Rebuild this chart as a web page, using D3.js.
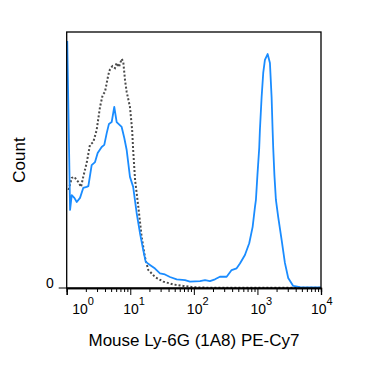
<!DOCTYPE html>
<html>
<head>
<meta charset="utf-8">
<script src="https://cdn.jsdelivr.net/npm/d3@7"></script>
<style>
  body { margin: 0; background: #fff; }
  text { font-family: Arial, "Liberation Sans", sans-serif; fill: #000; }
</style>
</head>
<body>
<div id="chart-area"></div>
<script>
// stained sample (blue) - intensity / % of max
var stainedX = [1.02, 1.07, 1.13, 1.20, 1.32, 1.44, 1.62, 1.82, 2.06, 2.19, 2.47, 2.79, 3.07, 3.55, 3.90, 4.26, 4.62, 5.10, 5.60, 6.11,
  7.32, 8.05, 8.78, 9.89, 11.1, 12.6, 14.2, 16.0, 17.5, 20.4, 24.5, 29.3, 35.1, 42.1, 53.7, 72.5, 86.9, 125, 150, 179,
  215, 257, 328, 393, 471, 531, 636, 743, 841, 914, 947, 1000, 1067, 1094, 1164, 1234, 1312, 1447, 1573, 1671,
  1733, 1772, 1850, 1954, 2124, 2402, 2706, 3050, 3654, 4660, 6690, 10000];
var stainedY = [96.5, 65.6, 30.5, 36.3, 35.2, 33.6, 35.2, 39.1, 39.5, 39.8, 48.0, 49.2, 52.7, 55.1, 55.9, 60.5, 64.1, 64.8, 70.7, 64.8,
  62.9, 58.6, 53.9, 43.4, 39.5, 29.3, 21.5, 14.8, 10.2, 9.0, 7.6, 5.7, 5.3, 4.3, 3.4, 3.1, 2.5, 2.7, 3.1, 2.7,
  3.4, 4.4, 4.4, 7.0, 7.7, 9.6, 12.9, 17.5, 23.9, 31.6, 34.4, 44.1, 54.7, 61.7, 74.6, 84.0, 89.1, 91.4, 87.9, 74.6,
  61.7, 54.7, 44.1, 34.4, 27.7, 18.8, 9.8, 3.9, 0.8, 0.3, 0.2, 0.2];

// isotype control (dotted)
var controlX = [1.07, 1.20, 1.32, 1.52, 1.68, 1.82, 2.06, 2.32, 2.62, 2.96, 3.34, 3.68, 4.00, 4.51, 4.80, 5.25, 5.75, 6.11, 6.64, 7.32,
  7.76, 8.26, 8.78, 9.89, 10.7, 11.1, 11.9, 13.4, 15.1, 17.0, 19.2, 20.4, 24.5, 33.0, 47.4, 68.1, 97.9, 179, 10000];
var controlY = [38.3, 43.0, 43.4, 41.4, 39.5, 43.4, 48.8, 55.9, 57.0, 61.7, 70.7, 75.4, 76.6, 83.2, 85.5, 86.7, 85.9, 87.9, 86.3, 89.5,
  88.3, 81.3, 76.6, 70.7, 61.7, 53.9, 42.2, 31.6, 19.9, 12.1, 7.0, 6.4, 4.3, 2.5, 1.4, 0.8, 0.3, 0.1, 0.1];

var decades = [0, 1, 2, 3, 4];

var margin = { left: 66.7, top: 32 };
var width = 254.3, height = 256;

var svg = d3.select("#chart-area").append("svg")
  .attr("width", 375).attr("height", 369);
var g = svg.append("g")
  .attr("transform", "translate(" + margin.left + "," + margin.top + ")");

var x = d3.scaleLog().domain([1, 10000]).range([0, width]);
var y = d3.scaleLinear().domain([0, 100]).range([height, 0]);

// minor ticks 2..9 in each decade
var minors = [];
decades.slice(0, 4).forEach(function(p) {
  for (var m = 2; m <= 9; m++) minors.push(m * Math.pow(10, p));
});

var line = d3.line()
  .x(function(d) { return x(d[0]); })
  .y(function(d) { return y(d[1]); });

g.append("path")
  .datum(d3.zip(controlX, controlY))
  .attr("fill", "none")
  .attr("stroke", "#4a4a4a")
  .attr("stroke-width", 2)
  .attr("stroke-dasharray", "2,2")
  .attr("d", line);

g.append("path")
  .datum(d3.zip(stainedX, stainedY))
  .attr("fill", "none")
  .attr("stroke", "#1a8cff")
  .attr("stroke-width", 1.8)
  .attr("stroke-linejoin", "round")
  .attr("d", line);

// frame
g.append("rect")
  .attr("width", width).attr("height", height)
  .attr("fill", "none").attr("stroke", "#000").attr("stroke-width", 1.3);

// x axis
var xAxisGroup = g.append("g").attr("transform", "translate(0," + height + ")");
xAxisGroup.call(d3.axisBottom(x).tickValues(minors).tickSize(4).tickFormat(""));
xAxisGroup.append("g").call(d3.axisBottom(x)
  .tickValues(decades.map(function(p) { return Math.pow(10, p); }))
  .tickSize(7).tickFormat(""));
xAxisGroup.selectAll("path").attr("stroke-width", 1.3);

var labelShift = [13.5, 1, 1, 1, -2];
decades.forEach(function(p, i) {
  var t = g.append("text")
    .attr("x", x(Math.pow(10, p)) + labelShift[i] - 8)
    .attr("y", height + 26)
    .attr("font-size", "14px");
  t.append("tspan").text("10");
  t.append("tspan").attr("font-size", "11px").attr("dy", -9).text(p);
});

// y axis: only zero
g.append("line")
  .attr("x1", -8).attr("x2", 0)
  .attr("y1", y(0)).attr("y2", y(0))
  .attr("stroke", "#000");
g.append("text")
  .attr("x", -13).attr("y", y(0))
  .attr("text-anchor", "end")
  .attr("font-size", "14px")
  .text("0");

// axis labels
svg.append("text")
  .attr("x", 194).attr("y", 346)
  .attr("text-anchor", "middle")
  .attr("font-size", "17px")
  .text("Mouse Ly-6G (1A8) PE-Cy7");

svg.append("text")
  .attr("transform", "translate(25,160) rotate(-90)")
  .attr("text-anchor", "middle")
  .attr("font-size", "17px")
  .text("Count");
</script>
</body>
</html>
